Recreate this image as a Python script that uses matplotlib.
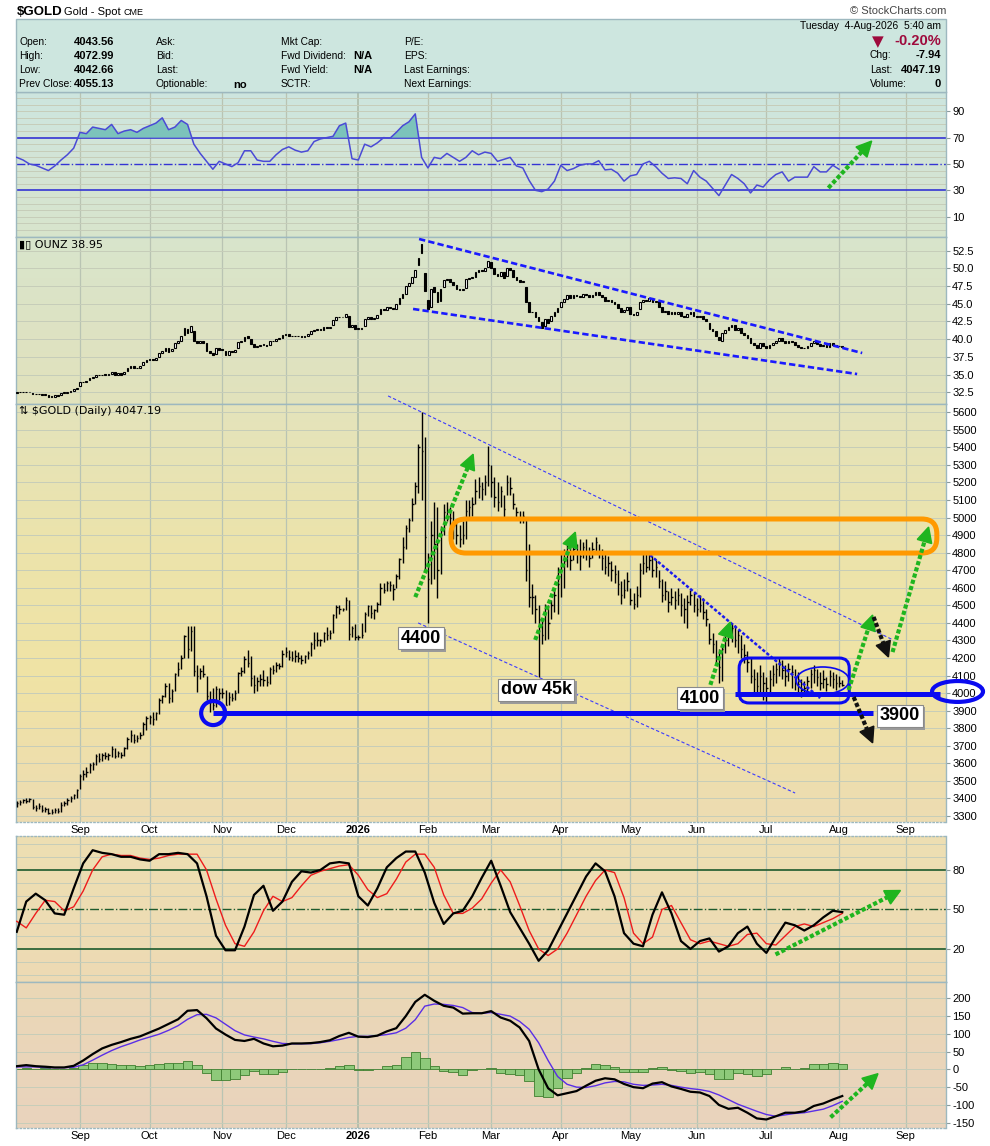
import numpy as np
import pandas as pd
import matplotlib
matplotlib.use('Agg')
import matplotlib.pyplot as plt
import matplotlib.patheffects as pe
from matplotlib.patches import FancyBboxPatch, Ellipse, Rectangle, Polygon
from matplotlib.lines import Line2D
from matplotlib.transforms import IdentityTransform

# ---------------- data (one value per trading day from 2025-08-04) ----------------
gold_close = [
    3375, 3380, 3390, 3385, 3395, 3350, 3345, 3355, 3335, 3340, 3318, 3322, 3335, 3328, 3365, 3372, 3392, 3400, 3418, 3446,
    3530, 3540, 3550, 3590, 3595, 3640, 3625, 3645, 3640, 3645, 3680, 3640, 3660, 3645, 3685, 3740, 3762, 3735, 3745, 3760, 3825, 3858,
    3865, 3855, 3885, 3960, 3985, 4040, 3975, 4015, 4110, 4140, 4200, 4325, 4250, 4355, 4125, 4095, 4125, 4110, 3985, 3950, 3930, 4025, 4000,
    4000, 3932, 3980, 3975, 4000, 4115, 4125, 4195, 4170, 4085, 4045, 4068, 4080, 4075, 4065, 4135, 4130, 4162, 4155, 4225,
    4232, 4205, 4200, 4210, 4200, 4190, 4210, 4230, 4280, 4300, 4305, 4300, 4340, 4330, 4340, 4445, 4490, 4480, 4480, 4530, 4335, 4370, 4320,
    4320, 4330, 4450, 4495, 4455, 4475, 4510, 4600, 4590, 4630, 4615, 4595, 4670, 4765, 4830, 4940, 4985, 5080, 5180, 5400, 5380, 4890,
    4650, 4900, 4850, 4700, 4900, 5030, 5040, 5000, 4960, 4900, 4880, 4900, 5040, 5060, 5080, 5150, 5180, 5160, 5200, 5300,
    5200, 5120, 5090, 5150, 5050, 5200, 5170, 5080, 5030, 5000, 5010, 4700, 4550, 4550, 4480, 4420, 4330, 4450, 4400, 4500, 4560, 4620,
    4700, 4750, 4800, 4760, 4820, 4790, 4780, 4830, 4810, 4770, 4820, 4860, 4800, 4770, 4720, 4740, 4700, 4680, 4620, 4560, 4590, 4640,
    4530, 4510, 4560, 4700, 4740, 4720, 4760, 4700, 4720, 4640, 4560, 4580, 4520, 4550, 4530, 4560, 4500, 4480, 4520, 4560, 4500,
    4480, 4500, 4460, 4420, 4310, 4280, 4200, 4150, 4250, 4300, 4340, 4370, 4300, 4330, 4250, 4220, 4180, 4100, 4080, 4040, 4100, 4060,
    4030, 4080, 4110, 4140, 4180, 4130, 4100, 4140, 4120, 4080, 4050, 4020, 4030, 4070, 4110, 4130, 4090, 4060, 4080, 4050, 4100, 4080, 4060,
    4055, 4047,
]
gold_high = [
    3385, 3392, 3398, 3400, 3405, 3398, 3360, 3372, 3360, 3350, 3345, 3338, 3345, 3345, 3378, 3385, 3400, 3412, 3425, 3455,
    3540, 3560, 3578, 3600, 3610, 3655, 3660, 3660, 3665, 3660, 3700, 3690, 3670, 3665, 3695, 3750, 3790, 3765, 3760, 3780, 3835, 3870,
    3875, 3895, 3890, 3975, 3990, 4060, 4055, 4025, 4115, 4180, 4215, 4330, 4380, 4380, 4380, 4160, 4145, 4160, 4100, 4015, 4030, 4040, 4030,
    4030, 4020, 4005, 4000, 4020, 4120, 4150, 4210, 4245, 4210, 4105, 4090, 4110, 4130, 4100, 4150, 4160, 4175, 4170, 4245,
    4260, 4245, 4240, 4245, 4235, 4220, 4215, 4240, 4290, 4350, 4350, 4310, 4350, 4375, 4360, 4450, 4500, 4500, 4485, 4550, 4530, 4385, 4395,
    4330, 4400, 4460, 4500, 4500, 4480, 4520, 4630, 4630, 4640, 4640, 4620, 4680, 4770, 4890, 4960, 4995, 5110, 5200, 5420, 5600, 5460,
    4800, 4980, 5090, 5060, 4950, 5080, 5090, 5060, 5040, 4990, 4960, 4980, 5100, 5100, 5120, 5220, 5230, 5200, 5240, 5410,
    5300, 5230, 5200, 5180, 5130, 5240, 5230, 5140, 5060, 5040, 5040, 5000, 4850, 4620, 4560, 4500, 4430, 4510, 4500, 4530, 4600, 4720,
    4790, 4820, 4870, 4830, 4880, 4850, 4880, 4860, 4880, 4830, 4860, 4890, 4850, 4820, 4800, 4780, 4750, 4730, 4700, 4640, 4650, 4690,
    4600, 4570, 4610, 4740, 4790, 4800, 4790, 4780, 4760, 4700, 4650, 4640, 4580, 4600, 4580, 4600, 4570, 4540, 4560, 4590, 4570,
    4540, 4560, 4540, 4480, 4400, 4340, 4300, 4250, 4280, 4360, 4380, 4400, 4390, 4360, 4330, 4280, 4240, 4200, 4140, 4120, 4160, 4120,
    4090, 4130, 4160, 4170, 4200, 4190, 4160, 4170, 4160, 4140, 4120, 4080, 4070, 4100, 4140, 4160, 4140, 4120, 4130, 4090, 4130, 4120, 4110,
    4095, 4073,
]
gold_low = [
    3352, 3362, 3376, 3372, 3380, 3340, 3330, 3340, 3325, 3325, 3310, 3312, 3318, 3315, 3325, 3355, 3365, 3380, 3395, 3405,
    3455, 3505, 3525, 3545, 3565, 3590, 3610, 3615, 3625, 3620, 3635, 3628, 3635, 3630, 3640, 3680, 3720, 3715, 3720, 3740, 3760, 3790,
    3825, 3820, 3845, 3880, 3945, 3980, 3945, 3950, 4015, 4095, 4140, 4200, 4200, 4240, 4100, 4005, 4080, 4090, 3960, 3890, 3905, 3920, 3960,
    3975, 3930, 3930, 3955, 3960, 4000, 4100, 4115, 4150, 4040, 4000, 4010, 4040, 4040, 4040, 4050, 4110, 4120, 4140, 4150,
    4205, 4190, 4185, 4180, 4180, 4165, 4170, 4195, 4210, 4250, 4270, 4270, 4290, 4300, 4310, 4340, 4430, 4450, 4470, 4475, 4300, 4320, 4300,
    4300, 4315, 4350, 4440, 4430, 4420, 4460, 4500, 4570, 4580, 4580, 4530, 4600, 4650, 4740, 4820, 4920, 4980, 5080, 5140, 5100, 4700,
    4400, 4620, 4650, 4540, 4680, 4900, 4980, 4950, 4880, 4850, 4830, 4850, 4880, 5000, 5010, 5080, 5110, 5100, 5130, 5180,
    5120, 5060, 5040, 5060, 5000, 5130, 5130, 5050, 5000, 4970, 4970, 4640, 4490, 4450, 4400, 4090, 4280, 4300, 4310, 4420, 4460, 4450,
    4550, 4600, 4720, 4700, 4760, 4740, 4700, 4770, 4760, 4720, 4770, 4790, 4770, 4700, 4680, 4670, 4640, 4630, 4560, 4510, 4540, 4580,
    4500, 4480, 4490, 4550, 4680, 4690, 4700, 4660, 4660, 4600, 4520, 4530, 4460, 4500, 4480, 4500, 4440, 4400, 4370, 4500, 4460,
    4440, 4460, 4420, 4380, 4280, 4230, 4160, 4060, 4070, 4230, 4270, 4290, 4260, 4230, 4200, 4170, 4120, 4060, 4000, 3990, 4000, 3960,
    3950, 4000, 4040, 4060, 4100, 4080, 4040, 4070, 4030, 4020, 4000, 3980, 3990, 4010, 4030, 4060, 4040, 4020, 4030, 4010, 4040, 4030, 4020,
    4035, 4043,
]
ounz_open = [
    32.4, 32.5, 32.5, 32.6, 32.5, 32.4, 32.2, 32.2, 32.3, 32.1, 32.1, 31.9, 31.9, 32.1, 32.1, 32.4, 32.4, 32.6, 32.7, 32.9,
    33.4, 33.9, 34.0, 34.2, 34.5, 34.7, 35.0, 34.9, 35.1, 35.0, 35.1, 35.3, 35.0, 35.2, 35.1, 35.5, 36.0, 36.2, 35.9, 36.0, 36.3, 36.8,
    37.1, 37.2, 37.1, 37.5, 38.1, 38.4, 38.8, 38.3, 38.7, 39.5, 39.8, 40.6, 41.5, 41.0, 41.2, 39.7, 39.4, 39.7, 39.4, 38.3, 38.0, 37.9, 38.7,
    38.6, 38.4, 37.8, 38.3, 38.2, 38.7, 39.6, 39.7, 40.4, 40.0, 39.3, 38.9, 39.1, 39.2, 39.2, 39.2, 39.8, 39.7, 40.0, 40.1,
    40.6, 40.7, 40.4, 40.4, 40.5, 40.4, 40.3, 40.5, 40.7, 41.2, 41.3, 41.4, 41.3, 41.7, 41.6, 42.0, 42.7, 43.2, 43.1, 43.1, 43.3, 41.7, 42.0,
    41.5, 41.5, 41.9, 42.8, 43.2, 42.8, 43.0, 43.6, 44.2, 44.1, 44.5, 44.4, 44.3, 44.9, 45.8, 46.4, 47.5, 48.0, 48.8, 50.5, 53.5, 49.4,
    45.6, 44.6, 47.3, 46.6, 45.4, 47.4, 48.4, 48.5, 48.1, 47.7, 47.1, 46.9, 47.2, 48.5, 48.7, 48.8, 49.5, 49.8, 49.6, 50.2,
    50.9, 50.0, 49.2, 48.9, 49.5, 48.9, 50.0, 49.7, 48.8, 48.4, 48.1, 47.4, 45.2, 43.8, 43.8, 43.1, 42.4, 41.8, 42.8, 42.5, 43.3, 43.8,
    44.6, 45.2, 45.7, 46.2, 45.8, 46.3, 46.1, 46.0, 46.4, 46.3, 45.9, 46.3, 46.7, 46.2, 45.9, 45.4, 45.6, 45.2, 45.0, 44.4, 43.8, 44.1,
    44.6, 43.6, 43.4, 44.2, 45.2, 45.6, 45.4, 45.8, 45.2, 45.4, 44.6, 43.8, 44.0, 43.5, 43.8, 43.6, 43.8, 43.3, 43.1, 43.5, 43.8,
    43.3, 43.1, 43.3, 42.9, 42.3, 41.4, 41.2, 40.3, 39.8, 40.9, 41.3, 41.7, 42.0, 41.3, 41.6, 40.9, 40.6, 40.2, 39.4, 39.2, 38.8, 39.4,
    39.0, 38.7, 39.2, 39.5, 39.8, 40.2, 39.7, 39.4, 39.8, 39.6, 39.2, 38.9, 38.7, 38.8, 39.1, 39.5, 39.7, 39.3, 39.0, 39.2, 38.9, 39.4, 39.2,
    39.1, 39.0,
]
ounz_close = [
    32.5, 32.5, 32.6, 32.5, 32.6, 32.2, 32.2, 32.3, 32.1, 32.1, 31.9, 31.9, 32.1, 32.0, 32.4, 32.4, 32.6, 32.7, 32.9, 33.1,
    33.9, 34.0, 34.1, 34.5, 34.6, 35.0, 34.9, 35.0, 35.0, 35.0, 35.4, 35.0, 35.2, 35.0, 35.4, 36.0, 36.2, 35.9, 36.0, 36.2, 36.8, 37.1,
    37.2, 37.1, 37.4, 38.1, 38.3, 38.8, 38.2, 38.6, 39.5, 39.8, 40.4, 41.6, 40.9, 41.9, 39.7, 39.4, 39.7, 39.5, 38.3, 38.0, 37.8, 38.7, 38.5,
    38.5, 37.8, 38.3, 38.2, 38.5, 39.6, 39.7, 40.3, 40.1, 39.3, 38.9, 39.1, 39.2, 39.2, 39.1, 39.8, 39.7, 40.0, 40.0, 40.6,
    40.7, 40.4, 40.4, 40.5, 40.4, 40.3, 40.5, 40.7, 41.2, 41.3, 41.4, 41.3, 41.7, 41.6, 41.7, 42.7, 43.2, 43.1, 43.1, 43.6, 41.7, 42.0, 41.5,
    41.5, 41.6, 42.8, 43.2, 42.8, 43.0, 43.4, 44.2, 44.1, 44.5, 44.4, 44.2, 44.9, 45.8, 46.4, 47.5, 47.9, 48.8, 49.8, 51.5, 52.2, 46.8,
    44.3, 47.1, 46.6, 45.2, 47.1, 48.4, 48.5, 48.1, 47.7, 47.1, 46.9, 47.1, 48.5, 48.7, 48.8, 49.5, 49.8, 49.6, 50.0, 51.0,
    50.0, 49.2, 48.9, 49.5, 48.6, 50.0, 49.7, 48.8, 48.4, 48.1, 48.2, 45.2, 43.8, 43.8, 43.1, 42.5, 41.6, 42.8, 42.3, 43.3, 43.8, 44.4,
    45.2, 45.7, 46.2, 45.8, 46.3, 46.1, 46.0, 46.4, 46.3, 45.9, 46.3, 46.7, 46.2, 45.9, 45.4, 45.6, 45.2, 45.0, 44.4, 43.8, 44.1, 44.6,
    43.6, 43.4, 43.8, 45.2, 45.6, 45.4, 45.8, 45.2, 45.4, 44.6, 43.8, 44.0, 43.5, 43.8, 43.6, 43.8, 43.3, 43.1, 43.5, 43.8, 43.3,
    43.1, 43.3, 42.9, 42.5, 41.4, 41.2, 40.4, 39.9, 40.9, 41.3, 41.7, 42.0, 41.3, 41.6, 40.9, 40.6, 40.2, 39.4, 39.2, 38.8, 39.4, 39.0,
    38.7, 39.2, 39.5, 39.8, 40.2, 39.7, 39.4, 39.8, 39.6, 39.2, 38.9, 38.7, 38.8, 39.1, 39.5, 39.7, 39.3, 39.0, 39.2, 38.9, 39.4, 39.2, 39.0,
    39.0, 38.95,
]

# RSI(14), read every 2nd trading day
rsi_vals = [
    55, 53, 50, 49, 47, 45, 48.5, 53, 57, 62,
    74, 73, 78, 77, 76, 80, 73, 75, 76, 74,
    77, 79, 81, 85, 76, 78, 83, 80, 65, 58,
    52, 46, 52, 50, 48, 51, 60, 60, 53, 52,
    52, 57, 61, 63, 60.5, 59, 60, 67, 69, 70,
    71, 79, 81, 54, 53, 65, 63, 66, 70, 69.5,
    74, 79, 82, 88, 55, 47, 55, 54, 58, 55,
    52, 55, 60, 57, 59, 58, 52, 53.5, 55, 48.5,
    47, 37.5, 30, 29, 31, 37, 49, 45, 46.5, 49,
    50, 50, 52.5, 45.5, 46, 43, 37, 41, 42, 50,
    52, 48, 43, 39, 39.5, 39, 35, 45, 40, 37,
    31.5, 26, 34, 42, 39, 35, 28, 34, 32.5, 38,
    42, 44, 37, 40, 40, 40, 48, 44, 44, 49,
    46,
]
# Slow stochastics %K / %D and MACD / signal, read every 3rd trading day
stoch_k = [
    33, 56, 62, 57, 47, 46, 66, 85, 95, 93,
    92, 90, 90, 88, 87, 92, 92, 93, 92, 85,
    60, 30, 19, 19, 37, 61, 68, 49, 56, 71,
    79, 78, 80, 85, 86, 85, 60, 53, 66, 82,
    89, 94, 94, 78, 55, 39, 47, 49, 60, 74,
    87, 68, 48, 36, 24, 11, 19, 33, 47, 61,
    75, 85, 79, 60, 32, 24, 22, 46, 63, 47,
    26, 20, 26, 28, 18, 22, 32, 37, 24, 17,
    29, 40, 38, 34, 38, 44, 49, 48,
]
stoch_d = [
    41, 36, 47, 57, 56, 49, 52, 64, 80, 90,
    92, 91, 91, 89, 88, 89, 91, 92, 92, 92,
    80, 58, 38, 24, 22, 33, 49, 60, 56, 59,
    68, 76, 79, 81, 83, 84, 76, 65, 59, 62,
    73, 86, 92, 92, 82, 61, 47, 47, 51, 58,
    70, 80, 71, 53, 34, 20, 15, 20, 32, 46,
    60, 72, 80, 78, 59, 32, 24, 29, 50, 53,
    40, 27, 24, 26, 24, 22, 24, 31, 32, 24,
    23, 30, 37, 39, 37, 40, 43, 47,
]
macd_line = [
    9, 12, 9, 7.5, 5.5, 5.5, 10, 25, 43, 59,
    69, 77, 86, 93, 104, 115, 128, 141, 165, 167,
    144, 115, 98, 83, 80, 86, 73, 65, 67, 73,
    73, 74, 77, 82, 94, 103, 92, 91, 95, 107,
    116, 150, 190, 210, 193, 179, 174, 157, 158, 158,
    164, 146, 137, 118, 80, 0, -53, -73, -67, -61,
    -46, -32, -25, -28, -41, -50, -53, -40, -36, -48,
    -55, -63, -65, -75, -100, -111, -108, -122, -138, -141,
    -132, -122, -122, -118, -103, -96, -85, -75,
]
macd_signal = [
    7, 7, 7, 5, 4.6, 4.6, 6, 13, 26, 40,
    53, 64, 73, 83, 91, 99, 110, 123, 141, 154,
    155, 145, 127, 109, 97, 91, 86, 79, 73, 72,
    72, 72.5, 75, 79, 84, 90, 93, 93, 95, 98,
    103, 116, 140, 178, 184, 183, 180, 174, 160, 158,
    160, 155, 150, 135, 113, 75, 25, -20, -42, -50,
    -51, -46, -38, -34, -35, -42, -45, -44, -42, -45,
    -50, -54, -57, -62, -72, -85, -98, -108, -118, -127,
    -132, -128, -124, -122, -117, -112, -102, -90,
]

for s in (gold_high, gold_low, ounz_open, ounz_close):
    assert len(s) == len(gold_close), len(s)

# ---------------- layout ----------------
W, H = 990, 1146
fig = plt.figure(figsize=(W / 100, H / 100), dpi=100)
fig.patch.set_facecolor('white')
plt.rcParams['font.family'] = ['Liberation Sans', 'DejaVu Sans']

LEFT, RIGHT = 16, 946
XMIN, XMAX = -0.24, 293.8
SPINE = '#9db8bf'
GRID_V = '#b9c4b3'
GRID_H = '#c6cdb9'

days = pd.bdate_range('2025-08-04', '2026-09-30')
mpos = [i for i in range(1, len(days)) if days[i].month != days[i - 1].month and i < XMAX]
mlab = ['2026' if days[i].month == 1 else days[i].strftime('%b') for i in mpos]

x = np.arange(len(gold_close))
rsi_x = np.arange(len(rsi_vals)) * 2
ind_x = np.arange(len(stoch_k)) * 3


def panel(top, bottom, stops):
    ax = fig.add_axes([LEFT / W, 1 - bottom / H, (RIGHT - LEFT) / W, (bottom - top) / H])
    t = np.linspace(0, 1, 200)
    pos = np.linspace(0, 1, len(stops))
    rgb = np.array([[int(c[k:k + 2], 16) / 255 for k in (1, 3, 5)] for c in stops])
    img = np.stack([np.interp(t, pos, rgb[:, k]) for k in range(3)], axis=-1)[:, None, :]
    ax.imshow(img, extent=(0, 1, 0, 1), transform=ax.transAxes, aspect='auto', zorder=-5)
    for sp in ax.spines.values():
        sp.set_color(SPINE)
        sp.set_linewidth(1.0)
    for p, lab in zip(mpos, mlab):
        ax.axvline(p, color='#a9b8a6' if lab == '2026' else GRID_V, lw=1.1 if lab == '2026' else 0.9, zorder=0)
    ax.yaxis.tick_right()
    ax.tick_params(axis='y', labelsize=8, length=3, width=0.8, color='#8a9a9a', pad=1.5)
    ax.tick_params(axis='x', length=0, labelbottom=False)
    return ax


def finish(ax, ylim, ticks, labels, grid):
    ax.set_xlim(XMIN, XMAX)
    ax.set_ylim(*ylim)
    ax.set_yticks(ticks, labels)
    ax.set_xticks(mpos)
    for g in grid:
        ax.axhline(g, color=GRID_H, lw=0.7, zorder=0)


def month_labels(ax):
    ax.set_xticks(mpos, mlab)
    ax.tick_params(axis='x', labelbottom=True, labelsize=8, pad=2)
    for t in ax.get_xticklabels():
        if t.get_text() == '2026':
            t.set_fontweight('bold')


def ftext(px, py, s, **kw):
    kw.setdefault('va', 'center')
    kw.setdefault('fontsize', 7.4)
    fig.text(px / W, 1 - py / H, s, **kw)


# ---------------- header ----------------
fig.add_artist(Rectangle((LEFT / W, 1 - 92 / H), (RIGHT - LEFT) / W, 73 / H, transform=fig.transFigure,
                         fc='#cde6df', ec=SPINE, lw=1))
ftext(17, 12, '$GOLD', fontsize=9.5, fontweight='bold')
ftext(64, 12, 'Gold - Spot', fontsize=8)
ftext(123, 12.5, 'CME', fontsize=6.5)
ftext(946, 11, '\u00a9 StockCharts.com', fontsize=8, ha='right', color='#444444')

rows_y = [42, 56, 70, 84]
for y, a, v, b, c, d in zip(rows_y,
                            ['Open:', 'High:', 'Low:', 'Prev Close:'],
                            ['4043.56', '4072.99', '4042.66', '4055.13'],
                            ['Ask:', 'Bid:', 'Last:', 'Optionable:'],
                            ['Mkt Cap:', 'Fwd Dividend:', 'Fwd Yield:', 'SCTR:'],
                            ['P/E:', 'EPS:', 'Last Earnings:', 'Next Earnings:']):
    ftext(19, y, a)
    ftext(74, y, v, fontweight='bold', fontsize=8)
    ftext(156, y, b)
    ftext(281, y, c)
    ftext(404, y, d)
ftext(233, 85, 'no', fontweight='bold', fontsize=8)
ftext(372, 56, 'N/A', fontweight='bold', fontsize=8, ha='right')
ftext(372, 70, 'N/A', fontweight='bold', fontsize=8, ha='right')

ftext(941, 26, 'Tuesday  4-Aug-2026  5:40 am', ha='right')
ftext(941, 41, '-0.20%', ha='right', fontsize=10.5, fontweight='bold', color='#9e0a3c')
ftext(878, 42, '\u25bc', ha='center', fontsize=11, color='#9e0a3c', family='DejaVu Sans')
for y, lab, val in zip([55, 70, 84], ['Chg:', 'Last:', 'Volume:'], ['-7.94', '4047.19', '0']):
    ftext(870, y, lab)
    ftext(941, y, val, ha='right', fontweight='bold', fontsize=8)

# ---------------- RSI panel ----------------
ax_rsi = panel(92, 237, ['#cde6df', '#d3e4d6', '#d8e5cc'])
finish(ax_rsi, (-5.4, 104.6), [10, 30, 50, 70, 90], ['10', '30', '50', '70', '90'],
       [v for v in range(0, 101, 5) if v not in (30, 50, 70)])
rv = np.array(rsi_vals, dtype=float)
ax_rsi.fill_between(rsi_x, rv, 70, where=rv > 70, interpolate=True, color='#7cc3bb', lw=0, zorder=2)
ax_rsi.axhline(70, color='#3434d4', lw=1.2, zorder=1)
ax_rsi.axhline(30, color='#3434d4', lw=1.2, zorder=1)
ax_rsi.axhline(50, color='#3434d4', lw=1.0, ls='-.', zorder=1)
ax_rsi.plot(rsi_x, rv, color='#4a4ad6', lw=1.1, zorder=3)

# ---------------- OUNZ panel ----------------
ax_oz = panel(237, 404, ['#d8e5cc', '#dde3c4', '#e2e2bc'])
oz_t = np.arange(32.5, 52.6, 2.5)
finish(ax_oz, (30.85, 54.43), oz_t, ['%.1f' % v for v in oz_t], oz_t)
oo = np.array(ounz_open)
oc = np.array(ounz_close)
up = oc >= oo
lo = np.minimum(oo, oc)
hgt = np.maximum(np.abs(oc - oo), 0.1)
ax_oz.bar(x[up], hgt[up], bottom=lo[up], width=0.55, facecolor='white', edgecolor='black', lw=0.8, zorder=3)
ax_oz.bar(x[~up], hgt[~up], bottom=lo[~up], width=0.55, facecolor='black', edgecolor='black', lw=0.8, zorder=3)
ftext(19, 244, '\u25ae\u25af OUNZ 38.95', fontsize=8, family='DejaVu Sans', va='center')

# ---------------- main $GOLD panel ----------------
ax = panel(404, 822, ['#e4e3bc', '#ece4ab', '#f0e3a5', '#eddcb2'])
g_t = np.arange(3300, 5601, 100)
finish(ax, (3266, 5647), g_t, ['%d' % v for v in g_t], g_t)
ax.spines['bottom'].set_linestyle(':')
month_labels(ax)
ax.vlines(x, gold_low, gold_high, color='black', lw=1.0, zorder=3)
ax.hlines(gold_close, x, x + 0.45, color='black', lw=1.0, zorder=3)
ftext(19, 411, '\u21c5 $GOLD (Daily) 4047.19', fontsize=8, family='DejaVu Sans')

# ---------------- slow stochastics ----------------
ax_st = panel(836, 982, ['#eedfb2', '#eddab4'])
finish(ax_st, (-5.1, 105.8), [20, 50, 80], ['20', '50', '80'],
       [v for v in range(0, 101, 10) if v not in (20, 50, 80)])
ax_st.spines['top'].set_linestyle(':')
ax_st.axhline(80, color='#1d5a2c', lw=1.2, zorder=1)
ax_st.axhline(20, color='#1d5a2c', lw=1.2, zorder=1)
ax_st.axhline(50, color='#1d5a2c', lw=1.0, ls='-.', zorder=1)
ax_st.plot(ind_x, stoch_d, color='#ee1c1c', lw=1.0, zorder=3)
ax_st.plot(ind_x, stoch_k, color='black', lw=1.6, zorder=4)

# ---------------- MACD ----------------
ax_m = panel(982, 1128, ['#ebd8b6', '#e9d3bd'])
m_t = np.arange(-150, 201, 50)
finish(ax_m, (-165, 246), m_t, ['%d' % v for v in m_t], m_t)
ax_m.spines['bottom'].set_linestyle(':')
month_labels(ax_m)
hist = np.array(macd_line) - np.array(macd_signal)
ax_m.bar(ind_x, hist, width=3.0, color='#8ec97a', edgecolor='#3f7f2f', lw=0.6, zorder=2)
ax_m.plot(ind_x, macd_signal, color='#5a2ee6', lw=1.0, zorder=3)
ax_m.plot(ind_x, macd_line, color='black', lw=1.6, zorder=4)

# ---------------- annotations ----------------
GREEN = '#1fb51f'
BLUE = '#0a0af0'


def to_px(a, xd, yd):
    return np.asarray(a.transData.transform((xd, yd)))


def dotted_arrow(a, x0, y0, x1, y1, color=GREEN, head=15, width=15):
    p0, p1 = to_px(a, x0, y0), to_px(a, x1, y1)
    u = (p1 - p0) / np.hypot(*(p1 - p0))
    n = np.array([-u[1], u[0]])
    base = p1 - u * head
    fig.add_artist(Line2D([p0[0], base[0]], [p0[1], base[1]], transform=IdentityTransform(), color=color,
                          lw=3.0, linestyle=(0, (1.0, 0.55)), dash_capstyle='butt', zorder=8))
    fig.add_artist(Polygon([p1, base + n * width / 2, base - n * width / 2], closed=True,
                           transform=IdentityTransform(), color=color, zorder=8))


def px_box(a, x0, x1, y0, y1):
    p, q = to_px(a, x0, y0), to_px(a, x1, y1)
    return min(p[0], q[0]), min(p[1], q[1]), abs(q[0] - p[0]), abs(q[1] - p[1])


def round_box(a, x0, x1, y0, y1, color, lw, r):
    bx, by, bw, bh = px_box(a, x0, x1, y0, y1)
    fig.add_artist(FancyBboxPatch((bx, by), bw, bh, boxstyle='round,pad=0,rounding_size=%g' % r,
                                  transform=IdentityTransform(), fc='none', ec=color, lw=lw, zorder=7))


def ring(a, x0, x1, y0, y1, color, lw):
    bx, by, bw, bh = px_box(a, x0, x1, y0, y1)
    fig.add_artist(Ellipse((bx + bw / 2, by + bh / 2), bw, bh, transform=IdentityTransform(),
                           fc='none', ec=color, lw=lw, zorder=7))


def label(a, xd, yd, s):
    t = a.text(xd, yd, s, ha='center', va='center', fontsize=13, fontweight='bold', color='black',
               bbox=dict(boxstyle='square,pad=0.15', fc='white', ec='#8a8a8a', lw=0.8), zorder=10, clip_on=False)
    t.get_bbox_patch().set_path_effects([pe.SimplePatchShadow(offset=(1.8, -1.8), shadow_rgbFace='#9a9a9a', alpha=1.0),
                                         pe.Normal()])


# RSI arrow
dotted_arrow(ax_rsi, 256.6, 31.8, 270.3, 67.4)

# OUNZ wedge
ax_oz.plot([127.2, 267.3], [54.15, 38.05], color='#1a1aff', lw=1.9, ls=(0, (2.4, 1.2)), zorder=5)
ax_oz.plot([125.3, 265.7], [44.27, 35.08], color='#1a1aff', lw=1.9, ls=(0, (2.4, 1.2)), zorder=5)

# main panel trend channel
ax.plot([117.4, 277.1], [5693, 4303], color='#3b3bff', lw=0.8, ls=(0, (3, 2)), zorder=4, clip_on=False)
ax.plot([126.9, 246.1], [4400, 3431], color='#3b3bff', lw=0.8, ls=(0, (3, 2)), zorder=4)
ax.plot([200.2, 254.0], [4787, 3972], color='#1a1aee', lw=1.8, ls=(0, (1.3, 0.8)), zorder=4)

# support lines
ax.plot([62.1, 270.7], [3887, 3887], color=BLUE, lw=3.6, solid_capstyle='butt', zorder=5)
ax.plot([227.1, 291.9], [3995, 3995], color=BLUE, lw=3.6, solid_capstyle='butt', zorder=5, clip_on=False)
ring(ax, 58.3, 65.9, 3955, 3818, BLUE, 3.0)
ring(ax, 289.4, 305.5, 4069, 3950, BLUE, 3.0)
round_box(ax, 228.4, 263.2, 3944, 4200, BLUE, 2.2, 10)
ring(ax, 246.4, 263.2, 4149, 3995, BLUE, 1.2)
round_box(ax, 137.3, 290.9, 4798, 4992, '#ff9900', 3.6, 15)

# arrows on price
dotted_arrow(ax, 126.0, 4547, 144.3, 5361)
dotted_arrow(ax, 163.9, 4303, 176.6, 4917)
dotted_arrow(ax, 219.3, 4047, 225.6, 4405)
dotted_arrow(ax, 263.0, 4018, 270.6, 4445)
dotted_arrow(ax, 276.9, 4234, 288.3, 4946)
dotted_arrow(ax, 270.9, 4434, 275.6, 4206, color='#111111')
dotted_arrow(ax, 264.6, 3978, 270.6, 3717, color='#111111')

label(ax, 127.8, 4314, '4400')
label(ax, 164.2, 4018, 'dow 45k')
label(ax, 216.0, 3972, '4100')
label(ax, 279.3, 3870, '3900')

# indicator arrows
dotted_arrow(ax_st, 239.9, 15.8, 279.4, 64.4)
dotted_arrow(ax_m, 257.3, -135, 272.3, -12)

fig.savefig('out.png', dpi=100)
